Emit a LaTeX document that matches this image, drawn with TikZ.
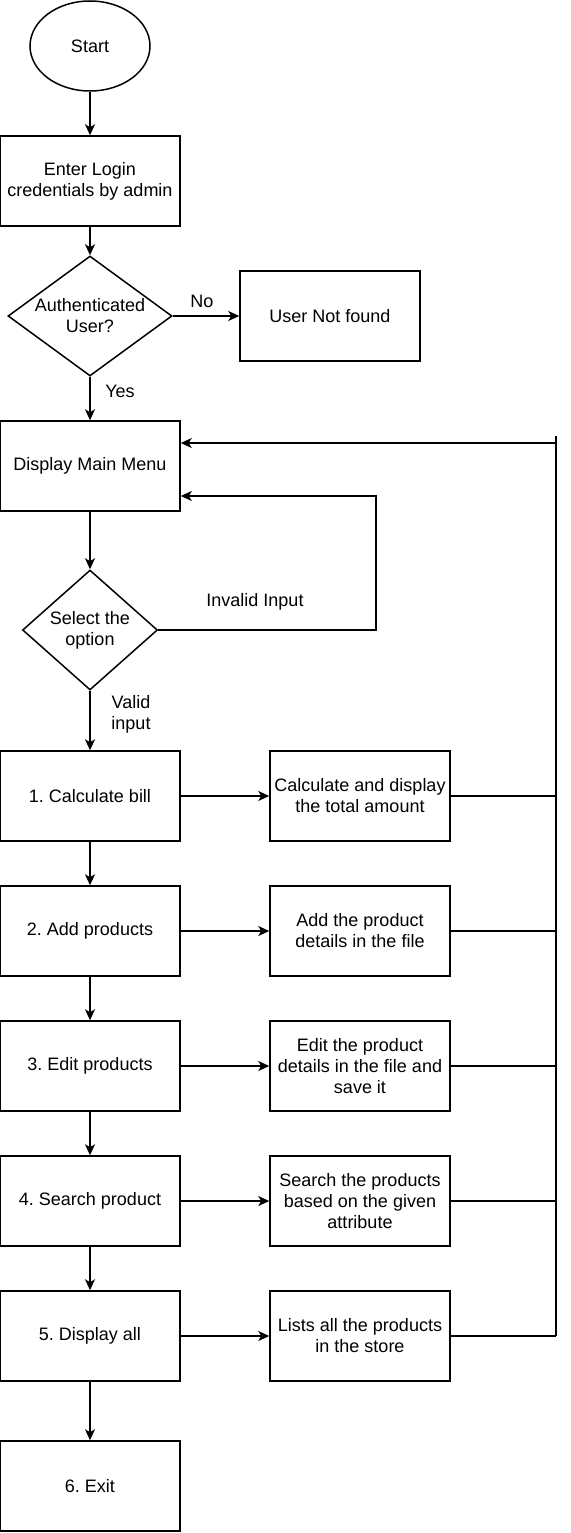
\documentclass[tikz,border=0pt]{standalone}
\usepackage{fontspec}
\setmainfont{Liberation Sans}
\usetikzlibrary{shapes.geometric,arrows.meta}
\newcommand{\fsz}{\fontsize{18}{21}\selectfont\frenchspacing}
\begin{document}
\begin{tikzpicture}[x=1pt,y=-1pt,
  box/.style={draw, line width=1.5pt, minimum width=180pt, minimum height=90pt, inner sep=0pt, align=center, font=\fsz},
  dia/.style={draw, diamond, line width=1.5pt, inner sep=0pt},
  term/.style={draw, ellipse, line width=1.5pt, minimum width=120pt, minimum height=90pt, inner sep=0pt, font=\fsz},
  lab/.style={font=\fsz, align=center, inner sep=0pt},
  ln/.style={line width=1.5pt},
  arr/.style={line width=1.5pt, -{Stealth[length=11pt,width=10pt,inset=3pt]}}]
\useasboundingbox (0,0) rectangle (570,1533);
\node[term] (start) at (90,46) {Start};
\node[box] (login) at (90,181) {Enter Login\\credentials by admin};
\node[dia, minimum width=164pt, minimum height=120pt] (auth) at (90,316) {};
\node[lab] (authtext) at (auth) {Authenticated\\User?};
\node[box] (nf) at (330,316) {User Not found};
\node[box] (menu) at (90,466) {Display Main Menu};
\node[dia, minimum width=135pt, minimum height=120pt] (sel) at (90,630) {};
\node[lab] (seltext) at (sel) {Select the\\option};
\node[box] (b1) at (90,796) {1. Calculate bill};
\node[box] (r1) at (360,796) {Calculate and display\\the total amount};
\node[box] (b2) at (90,931) {2. Add products};
\node[box] (r2) at (360,931) {Add the product\\details in the file};
\node[box] (b3) at (90,1066) {3. Edit products};
\node[box] (r3) at (360,1066) {Edit the product\\details in the file and\\save it};
\node[box] (b4) at (90,1201) {4. Search product};
\node[box] (r4) at (360,1201) {Search the products\\based on the given\\attribute};
\node[box] (b5) at (90,1336) {5. Display all};
\node[box] (r5) at (360,1336) {Lists all the products\\in the store};
\node[box] (b6) at (90,1486) {6. Exit};
\node[lab] (lno) at (202,301) {No};
\node[lab] (lyes) at (120,391) {Yes};
\node[lab] (linv) at (255,602) {Invalid Input};
\node[lab] (lval) at (131,714) {Valid\\input};
\coordinate (loop) at (376,496);
\coordinate (rtop) at (556,436);
\coordinate (rarr) at (556,443);
\coordinate (rbot) at (556,1336);
\draw[arr] (start) -- (login);
\draw[arr] (login) -- (auth);
\draw[arr] (auth.east) -- (nf.west);
\draw[arr] (auth.south) -- (menu.north);
\draw[arr] (menu) -- (sel);
\draw[arr] (sel.east) -- (sel.east -| loop) -- (loop) -- (loop -| menu.east);
\draw[arr] (sel.south) -- (b1.north);
\draw[arr] (b1) -- (b2);
\draw[arr] (b2) -- (b3);
\draw[arr] (b3) -- (b4);
\draw[arr] (b4) -- (b5);
\draw[arr] (b5) -- (b6);
\draw[arr] (b1) -- (r1);
\draw[arr] (b2) -- (r2);
\draw[arr] (b3) -- (r3);
\draw[arr] (b4) -- (r4);
\draw[arr] (b5) -- (r5);
\draw[ln] (rtop) -- (rbot);
\draw[ln] (r1.east) -- (r1.east -| rtop);
\draw[ln] (r2.east) -- (r2.east -| rtop);
\draw[ln] (r3.east) -- (r3.east -| rtop);
\draw[ln] (r4.east) -- (r4.east -| rtop);
\draw[ln] (r5.east) -- (r5.east -| rtop);
\draw[arr] (rarr) -- (rarr -| menu.east);
\end{tikzpicture}
\end{document}
